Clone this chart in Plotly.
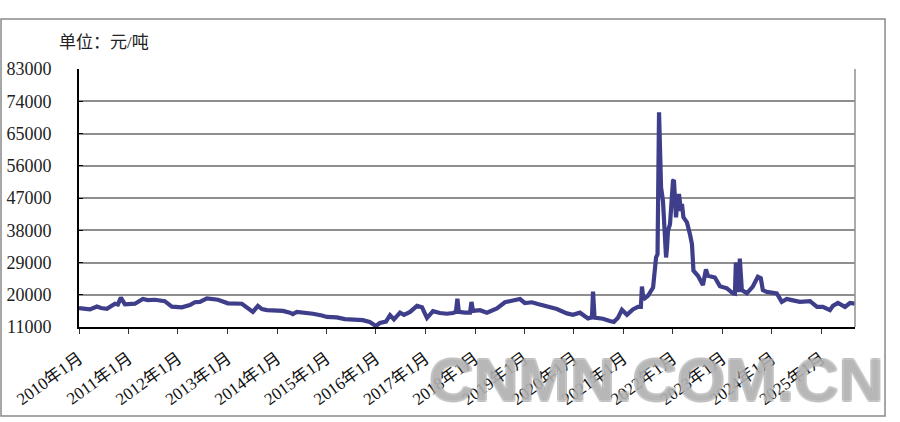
import plotly.graph_objects as go

# ---- data ----
dates = [
    "2010-01-01", "2010-02-21", "2010-03-23", "2010-05-13", "2010-06-12", "2010-07-26",
    "2010-09-23", "2010-10-15", "2010-11-06", "2010-12-06", "2011-02-18", "2011-04-17",
    "2011-05-24", "2011-07-15", "2011-09-26", "2011-11-17", "2012-01-30", "2012-03-29",
    "2012-05-05", "2012-06-11", "2012-08-02", "2012-10-22", "2013-01-04", "2013-04-17",
    "2013-07-07", "2013-08-13", "2013-09-12", "2013-10-19", "2014-01-01",
    "2014-02-14", "2014-04-06", "2014-04-28", "2014-05-27", "2014-07-26", "2014-09-23",
    "2014-11-28", "2015-01-04", "2015-03-18", "2015-05-17", "2015-09-26", "2015-11-16",
    "2016-01-01", "2016-01-30", "2016-03-15", "2016-04-14", "2016-05-13", "2016-06-27",
    "2016-07-26", "2016-09-09", "2016-10-30", "2016-12-06", "2017-01-12", "2017-02-25",
    "2017-04-17", "2017-06-08", "2017-07-22", "2017-08-13", "2017-08-24", "2017-09-04",
    "2017-10-19", "2017-11-25", "2017-12-06", "2017-12-17", "2018-02-07",
    "2018-03-30", "2018-06-12", "2018-08-10", "2018-10-08", "2018-11-29", "2019-01-04",
    "2019-02-25", "2019-04-10", "2019-06-16", "2019-08-28", "2019-11-10", "2019-12-24",
    "2020-02-14", "2020-03-08", "2020-04-14", "2020-05-13", "2020-05-21", "2020-06-01",
    "2020-08-02", "2020-09-22", "2020-10-22", "2020-11-21", "2020-12-20", "2021-01-26",
    "2021-03-11", "2021-04-17", "2021-05-09", "2021-05-17", "2021-05-28", "2021-06-30",
    "2021-08-07", "2021-08-29", "2021-09-09", "2021-09-20", "2021-10-05", "2021-10-19",
    "2021-11-03", "2021-11-11", "2021-11-18", "2021-11-25", "2021-12-10", "2021-12-25",
    "2022-01-01", "2022-01-08", "2022-01-23", "2022-01-30", "2022-02-14", "2022-03-01",
    "2022-03-08", "2022-03-19", "2022-04-14", "2022-05-06", "2022-05-21", "2022-06-01",
    "2022-07-04", "2022-08-10", "2022-09-01", "2022-09-16", "2022-11-06", "2022-12-13",
    "2023-02-03", "2023-03-19", "2023-04-03", "2023-04-10", "2023-04-17", "2023-05-02",
    "2023-05-09", "2023-05-24", "2023-06-30", "2023-08-13", "2023-09-19", "2023-10-11",
    "2023-10-26", "2023-11-24", "2024-02-06", "2024-03-14", "2024-04-20", "2024-05-27",
    "2024-07-25", "2024-10-08", "2024-11-29", "2025-01-11", "2025-03-04", "2025-03-26",
    "2025-05-02", "2025-06-23", "2025-07-30", "2025-09-05",
]
prices = [
    16300, 15900, 15900, 16700, 16300, 16100,
    17500, 17300, 19200, 17300, 17500, 18800,
    18500, 18600, 18200, 16700, 16500, 17100,
    17900, 18000, 19000, 18600, 17600, 17500,
    15200, 16900, 16000, 15700, 15600,
    15500, 15000, 14600, 15200, 15000, 14700,
    14200, 13800, 13700, 13200, 12900, 12400,
    11300, 12100, 12500, 14300, 13100, 15000,
    14400, 15200, 16900, 16500, 13500, 15400,
    14900, 14700, 14900, 15200, 18900, 15200,
    15000, 15000, 18000, 15500, 15700,
    15000, 16200, 17900, 18400, 18800, 17700,
    17900, 17400, 16700, 16000, 14800, 14400,
    15000, 14400, 13400, 13700, 20900, 13600,
    13300, 12700, 12400, 13600, 15800, 14400,
    15900, 16600, 16600, 22300, 18700, 19700,
    22000, 30400, 31300, 70900, 49900, 46200,
    36000, 30400, 33200, 37800, 39700, 49000,
    51800, 52000, 41600, 44400, 48100, 43400,
    45300, 41600, 40200, 36900, 34100, 26700,
    25300, 22700, 27100, 25300, 24800, 22400,
    21800, 20400, 20300, 29000, 21300, 21300,
    30100, 21300, 20400, 22300, 25000, 24600,
    21300, 20800, 20400, 18000, 18800, 18500,
    18000, 18200, 16600, 16600, 15700, 16900,
    17700, 16600, 17700, 17500,
]

y_ticks = [11000, 20000, 29000, 38000, 47000, 56000, 65000, 74000, 83000]
x_ticks = [f"{y}-01-01" for y in range(2010, 2026)]
x_tick_labels = [f"{y}年1月" for y in range(2010, 2026)]
unit_label = "单位：元/吨"
watermark = "CNMN.COM.CN"

FONT = "Liberation Serif, Times New Roman, DejaVu Serif, Noto Sans CJK SC, serif"

fig = go.Figure()
fig.add_trace(go.Scatter(
    x=dates, y=prices, mode="lines",
    line=dict(color="#3E3E8A", width=4.2),
    hoverinfo="x+y", showlegend=False,
))

fig.update_layout(
    width=900, height=422,
    margin=dict(l=79, r=45, t=69, b=95, autoexpand=False),
    paper_bgcolor="white", plot_bgcolor="white",
    font=dict(family=FONT, color="#222222"),
    xaxis=dict(
        type="date",
        range=["2010-01-01", "2025-09-05"],
        tickvals=x_ticks, ticktext=x_tick_labels,
        tickangle=-36,
        tickfont=dict(size=17, family=FONT, color="#111111"),
        showgrid=False, zeroline=False,
        showline=True, linecolor="black", linewidth=2,
        ticks="outside", ticklen=5, tickcolor="#333333", tickwidth=1,
        ticklabelstandoff=8,
    ),
    yaxis=dict(
        range=[11000, 83000],
        tickvals=y_ticks,
        ticktext=[str(v) for v in y_ticks],
        tickfont=dict(size=18, family=FONT, color="#222222"),
        showgrid=True, gridcolor="#8F8F8F", gridwidth=1.5,
        zeroline=False,
        showline=True, linecolor="black", linewidth=2,
        ticks="inside", ticklen=4, tickcolor="black",
        ticklabelstandoff=22,
    ),
    shapes=[
        dict(type="line", xref="paper", yref="paper", x0=1, x1=1, y0=0, y1=1,
             line=dict(color="#8F8F8F", width=1.5)),
        dict(type="rect", xref="paper", yref="paper",
             x0=-0.1005, x1=1.0387, y0=-0.345, y1=1.1938,
             line=dict(color="#8A8A8A", width=1.5), layer="below"),
    ],
    annotations=[
        dict(text=unit_label, xref="paper", yref="paper",
             x=-0.0284, y=1.101, xanchor="left", yanchor="middle",
             showarrow=False, font=dict(size=17, family=FONT, color="#222222")),
        dict(text="<b>" + watermark + "</b>", xref="paper", yref="paper",
             x=0.448, y=-0.205, xanchor="left", yanchor="middle",
             showarrow=False,
             font=dict(size=62,
                       family="Liberation Sans, Arial, sans-serif",
                       color="rgba(200,200,200,0.55)",
                       shadow="1px 1px 0 rgba(140,140,140,0.6), -1px -1px 0 rgba(140,140,140,0.6), 1px -1px 0 rgba(140,140,140,0.6), -1px 1px 0 rgba(140,140,140,0.6)")),
    ],
)

fig.write_html("out.html", config={"displayModeBar": False},
               post_script="document.body.style.margin='0';document.body.style.overflow='hidden';")
